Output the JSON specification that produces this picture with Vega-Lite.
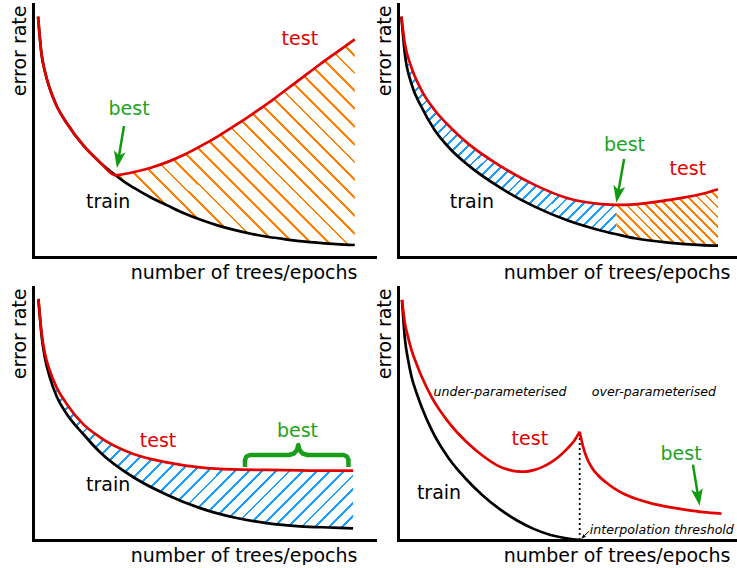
{
"$schema":"https://vega.github.io/schema/vega-lite/v6.json",
"padding":{"left":10,"top":4,"right":0,"bottom":0},
"columns":2,
"spacing":{"row":30,"column":23},
"bounds":"flush",
"datasets":{
"p1":[{"x":1.5,"train":95,"test":95},{"x":2.5,"train":80.5,"test":80.5},{"x":3.5,"train":73.5,"test":73.5},{"x":5,"train":66.5,"test":66.5},{"x":7,"train":59.8,"test":59.8},{"x":10,"train":53,"test":53},{"x":15,"train":44,"test":44},{"x":20,"train":37.3,"test":37.3},{"x":24.5,"train":32.3,"test":32.3},{"x":27,"train":29.8,"test":32.8},{"x":30,"train":27.3,"test":33.6},{"x":35,"train":23.5,"test":35.3},{"x":40,"train":20.3,"test":37.6},{"x":45,"train":17.2,"test":40.5},{"x":50,"train":14.6,"test":44.0},{"x":55,"train":12.4,"test":47.8},{"x":60,"train":10.6,"test":52.0},{"x":65,"train":9.1,"test":56.4},{"x":70,"train":7.9,"test":61.0},{"x":75,"train":7.0,"test":66.0},{"x":80,"train":6.2,"test":71.0},{"x":85,"train":5.6,"test":76.0},{"x":90,"train":5.1,"test":80.8},{"x":95.5,"train":4.75,"test":86.0}],
"p2":[{"x":1.0,"test":95.0,"train":95.0},{"x":2.0,"test":84.5,"train":80.5},{"x":3.9,"test":75.2,"train":68.7},{"x":6.9,"test":66.0,"train":59.4},{"x":10.8,"test":58.1,"train":50.2},{"x":15.7,"test":50.9,"train":42.3},{"x":20.6,"test":44.9,"train":36.4},{"x":30.5,"test":35.7,"train":27.1},{"x":40.3,"test":28.5,"train":19.9},{"x":50.1,"test":23.2,"train":14.4},{"x":60.0,"test":20.9,"train":10.4},{"x":64.4,"test":20.6,"train":9.0},{"x":69.8,"test":20.8,"train":7.4},{"x":79.6,"test":22.5,"train":5.7},{"x":89.5,"test":24.9,"train":4.7},{"x":94.4,"test":26.8,"train":4.5}],
"p3":[{"x":1.6,"test":95.3,"train":95.3},{"x":2.6,"test":81.4,"train":80.1},{"x":3.5,"test":74.0,"train":72.2},{"x":5.0,"test":66.9,"train":64.3},{"x":7,"test":60.3,"train":56.8},{"x":10.0,"test":53.8,"train":49.8},{"x":14.9,"test":45.8,"train":41.9},{"x":19.9,"test":40.6,"train":34.7},{"x":29.8,"test":34.0,"train":24.8},{"x":39.7,"test":30.7,"train":17.9},{"x":49.6,"test":28.7,"train":12.6},{"x":59.4,"test":27.9,"train":9.0},{"x":69.3,"test":27.7,"train":6.7},{"x":79.2,"test":27.5,"train":5.4},{"x":89.1,"test":27.4,"train":4.9},{"x":95.0,"test":27.4,"train":4.6}],
"p4train":[{"x":1.18,"y":94.9},{"x":2,"y":80},{"x":3,"y":71},{"x":4,"y":64.5},{"x":5.5,"y":58},{"x":7,"y":52.5},{"x":10,"y":43.3},{"x":15,"y":32.2},{"x":20,"y":24.2},{"x":25,"y":17.6},{"x":30,"y":12.2},{"x":35,"y":7.8},{"x":40,"y":4.4},{"x":45,"y":2.0},{"x":50,"y":0.6},{"x":53.6,"y":0}],
"p4test":[{"x":1.18,"y":94.9,"seg":"under"},{"x":2,"y":86,"seg":"under"},{"x":3,"y":80,"seg":"under"},{"x":4,"y":75,"seg":"under"},{"x":5.5,"y":69.5,"seg":"under"},{"x":7,"y":64.5,"seg":"under"},{"x":10,"y":56.3,"seg":"under"},{"x":15,"y":46.4,"seg":"under"},{"x":20,"y":39.0,"seg":"under"},{"x":25,"y":33.3,"seg":"under"},{"x":30,"y":29.0,"seg":"under"},{"x":32.5,"y":27.8,"seg":"under"},{"x":35,"y":27.1,"seg":"under"},{"x":37.5,"y":27.0,"seg":"under"},{"x":40,"y":27.6,"seg":"under"},{"x":42.5,"y":28.8,"seg":"under"},{"x":45,"y":30.6,"seg":"under"},{"x":47.5,"y":33.0,"seg":"under"},{"x":50,"y":36.2,"seg":"under"},{"x":52,"y":39.2,"seg":"under"},{"x":53.6,"y":42.8,"seg":"under"},{"x":53.6,"y":42.8,"seg":"over"},{"x":54.1,"y":39.6,"seg":"over"},{"x":55,"y":35.0,"seg":"over"},{"x":56,"y":31.5,"seg":"over"},{"x":57.5,"y":28.0,"seg":"over"},{"x":59,"y":25.6,"seg":"over"},{"x":61.5,"y":22.6,"seg":"over"},{"x":64,"y":20.2,"seg":"over"},{"x":67,"y":18.0,"seg":"over"},{"x":70,"y":16.4,"seg":"over"},{"x":75,"y":14.4,"seg":"over"},{"x":80,"y":13.0,"seg":"over"},{"x":85,"y":11.9,"seg":"over"},{"x":90,"y":11.0,"seg":"over"},{"x":95.4,"y":10.4,"seg":"over"}]
},
"concat":[
{
"width":342,"height":253,
"encoding":{"x":{"field":"x","type":"quantitative","scale":{"domain":[0,101.5],"nice":false,"zero":false},"title":"number of trees/epochs","axis":{"titleX":324}}},
"layer":[
{"data":{"name":"p1"},"transform":[{"filter":"datum.x >= 24.5"}],
"mark":{"type":"area","interpolate":"monotone","opacity":1,"fillOpacity":1,"fill":{"gradient":"linear","x1":0,"y1":1,"x2":1.07,"y2":0.08,"stops":[
{"offset":0,"color":"#ff7f00"},{"offset":0.0063,"color":"#ff7f00"},{"offset":0.0063,"color":"#ffffff"},{"offset":0.04,"color":"#ffffff"},
{"offset":0.04,"color":"#ff7f00"},{"offset":0.0463,"color":"#ff7f00"},{"offset":0.0463,"color":"#ffffff"},{"offset":0.08,"color":"#ffffff"},
{"offset":0.08,"color":"#ff7f00"},{"offset":0.0863,"color":"#ff7f00"},{"offset":0.0863,"color":"#ffffff"},{"offset":0.12,"color":"#ffffff"},
{"offset":0.12,"color":"#ff7f00"},{"offset":0.1263,"color":"#ff7f00"},{"offset":0.1263,"color":"#ffffff"},{"offset":0.16,"color":"#ffffff"},
{"offset":0.16,"color":"#ff7f00"},{"offset":0.1663,"color":"#ff7f00"},{"offset":0.1663,"color":"#ffffff"},{"offset":0.2,"color":"#ffffff"},
{"offset":0.2,"color":"#ff7f00"},{"offset":0.2063,"color":"#ff7f00"},{"offset":0.2063,"color":"#ffffff"},{"offset":0.24,"color":"#ffffff"},
{"offset":0.24,"color":"#ff7f00"},{"offset":0.2463,"color":"#ff7f00"},{"offset":0.2463,"color":"#ffffff"},{"offset":0.28,"color":"#ffffff"},
{"offset":0.28,"color":"#ff7f00"},{"offset":0.2863,"color":"#ff7f00"},{"offset":0.2863,"color":"#ffffff"},{"offset":0.32,"color":"#ffffff"},
{"offset":0.32,"color":"#ff7f00"},{"offset":0.3263,"color":"#ff7f00"},{"offset":0.3263,"color":"#ffffff"},{"offset":0.36,"color":"#ffffff"},
{"offset":0.36,"color":"#ff7f00"},{"offset":0.3663,"color":"#ff7f00"},{"offset":0.3663,"color":"#ffffff"},{"offset":0.4,"color":"#ffffff"},
{"offset":0.4,"color":"#ff7f00"},{"offset":0.4063,"color":"#ff7f00"},{"offset":0.4063,"color":"#ffffff"},{"offset":0.44,"color":"#ffffff"},
{"offset":0.44,"color":"#ff7f00"},{"offset":0.4463,"color":"#ff7f00"},{"offset":0.4463,"color":"#ffffff"},{"offset":0.48,"color":"#ffffff"},
{"offset":0.48,"color":"#ff7f00"},{"offset":0.4863,"color":"#ff7f00"},{"offset":0.4863,"color":"#ffffff"},{"offset":0.52,"color":"#ffffff"},
{"offset":0.52,"color":"#ff7f00"},{"offset":0.5263,"color":"#ff7f00"},{"offset":0.5263,"color":"#ffffff"},{"offset":0.56,"color":"#ffffff"},
{"offset":0.56,"color":"#ff7f00"},{"offset":0.5663,"color":"#ff7f00"},{"offset":0.5663,"color":"#ffffff"},{"offset":0.6,"color":"#ffffff"},
{"offset":0.6,"color":"#ff7f00"},{"offset":0.6063,"color":"#ff7f00"},{"offset":0.6063,"color":"#ffffff"},{"offset":0.64,"color":"#ffffff"},
{"offset":0.64,"color":"#ff7f00"},{"offset":0.6463,"color":"#ff7f00"},{"offset":0.6463,"color":"#ffffff"},{"offset":0.68,"color":"#ffffff"},
{"offset":0.68,"color":"#ff7f00"},{"offset":0.6863,"color":"#ff7f00"},{"offset":0.6863,"color":"#ffffff"},{"offset":0.72,"color":"#ffffff"},
{"offset":0.72,"color":"#ff7f00"},{"offset":0.7263,"color":"#ff7f00"},{"offset":0.7263,"color":"#ffffff"},{"offset":0.76,"color":"#ffffff"},
{"offset":0.76,"color":"#ff7f00"},{"offset":0.7663,"color":"#ff7f00"},{"offset":0.7663,"color":"#ffffff"},{"offset":0.8,"color":"#ffffff"},
{"offset":0.8,"color":"#ff7f00"},{"offset":0.8063,"color":"#ff7f00"},{"offset":0.8063,"color":"#ffffff"},{"offset":0.84,"color":"#ffffff"},
{"offset":0.84,"color":"#ff7f00"},{"offset":0.8463,"color":"#ff7f00"},{"offset":0.8463,"color":"#ffffff"},{"offset":0.88,"color":"#ffffff"},
{"offset":0.88,"color":"#ff7f00"},{"offset":0.8863,"color":"#ff7f00"},{"offset":0.8863,"color":"#ffffff"},{"offset":0.92,"color":"#ffffff"},
{"offset":0.92,"color":"#ff7f00"},{"offset":0.9263,"color":"#ff7f00"},{"offset":0.9263,"color":"#ffffff"},{"offset":0.96,"color":"#ffffff"},
{"offset":0.96,"color":"#ff7f00"},{"offset":0.9663,"color":"#ff7f00"},{"offset":0.9663,"color":"#ffffff"},{"offset":1,"color":"#ffffff"}
]}},
"encoding":{"y":{"field":"test","type":"quantitative","scale":{"domain":[0,100],"nice":false},"title":"error rate"},"y2":{"field":"train"}}},
{"data":{"name":"p1"},"mark":{"type":"line","interpolate":"monotone","color":"#000000","strokeWidth":2.7},
"encoding":{"y":{"field":"train","type":"quantitative","scale":{"domain":[0,100],"nice":false},"title":"error rate"}}},
{"data":{"name":"p1"},"mark":{"type":"line","interpolate":"monotone","color":"#e30000","strokeWidth":2.7},
"encoding":{"y":{"field":"test","type":"quantitative","scale":{"domain":[0,100],"nice":false},"title":"error rate"}}},
{"data":{"values":[{"x":27.0,"y":51.8,"x2":25.34,"y2":38.5}]},"mark":{"type":"rule","color":"#119911","strokeWidth":2.5},
"encoding":{"y":{"field":"y","type":"quantitative","scale":{"domain":[0,100],"nice":false},"title":"error rate"},"x2":{"field":"x2"},"y2":{"field":"y2"}}},
{"data":{"values":[{"x":25.34,"y":38.5}]},"mark":{"type":"point","shape":"M0,1L-0.7,-1L0,-0.5L0.7,-1Z","size":289,"filled":true,"color":"#119911","opacity":1,"strokeWidth":0,"angle":9.5},
"encoding":{"y":{"field":"y","type":"quantitative","scale":{"domain":[0,100],"nice":false},"title":"error rate"}}},
{"data":{"values":[{"x":79.2,"y":83.6,"label":"test"},{"x":28.5,"y":56.1,"label":"best"},{"x":22.3,"y":19.4,"label":"train"}]},
"mark":{"type":"text","baseline":"alphabetic","align":"center","fontSize":19},
"encoding":{"y":{"field":"y","type":"quantitative","scale":{"domain":[0,100],"nice":false},"title":"error rate"},"text":{"field":"label"},
"color":{"field":"label","type":"nominal","scale":{"domain":["test","best","train"],"range":["#e30000","#22a322","#000000"]},"legend":null}}}
]
},
{
"width":339,"height":253,
"encoding":{"x":{"field":"x","type":"quantitative","scale":{"domain":[0,100],"nice":false,"zero":false},"title":"number of trees/epochs","axis":{"titleX":332}}},
"layer":[
{"data":{"name":"p2"},"transform":[{"filter":"datum.x <= 64.4"}],
"mark":{"type":"area","interpolate":"monotone","opacity":1,"fillOpacity":1,"fill":{"gradient":"linear","x1":0,"y1":0,"x2":0.992,"y2":1.008,"stops":[
{"offset":0,"color":"#1a9fff"},{"offset":0.0065,"color":"#1a9fff"},{"offset":0.0065,"color":"#ffffff"},{"offset":0.025,"color":"#ffffff"},
{"offset":0.025,"color":"#1a9fff"},{"offset":0.0315,"color":"#1a9fff"},{"offset":0.0315,"color":"#ffffff"},{"offset":0.05,"color":"#ffffff"},
{"offset":0.05,"color":"#1a9fff"},{"offset":0.0565,"color":"#1a9fff"},{"offset":0.0565,"color":"#ffffff"},{"offset":0.075,"color":"#ffffff"},
{"offset":0.075,"color":"#1a9fff"},{"offset":0.0815,"color":"#1a9fff"},{"offset":0.0815,"color":"#ffffff"},{"offset":0.1,"color":"#ffffff"},
{"offset":0.1,"color":"#1a9fff"},{"offset":0.1065,"color":"#1a9fff"},{"offset":0.1065,"color":"#ffffff"},{"offset":0.125,"color":"#ffffff"},
{"offset":0.125,"color":"#1a9fff"},{"offset":0.1315,"color":"#1a9fff"},{"offset":0.1315,"color":"#ffffff"},{"offset":0.15,"color":"#ffffff"},
{"offset":0.15,"color":"#1a9fff"},{"offset":0.1565,"color":"#1a9fff"},{"offset":0.1565,"color":"#ffffff"},{"offset":0.175,"color":"#ffffff"},
{"offset":0.175,"color":"#1a9fff"},{"offset":0.1815,"color":"#1a9fff"},{"offset":0.1815,"color":"#ffffff"},{"offset":0.2,"color":"#ffffff"},
{"offset":0.2,"color":"#1a9fff"},{"offset":0.2065,"color":"#1a9fff"},{"offset":0.2065,"color":"#ffffff"},{"offset":0.225,"color":"#ffffff"},
{"offset":0.225,"color":"#1a9fff"},{"offset":0.2315,"color":"#1a9fff"},{"offset":0.2315,"color":"#ffffff"},{"offset":0.25,"color":"#ffffff"},
{"offset":0.25,"color":"#1a9fff"},{"offset":0.2565,"color":"#1a9fff"},{"offset":0.2565,"color":"#ffffff"},{"offset":0.275,"color":"#ffffff"},
{"offset":0.275,"color":"#1a9fff"},{"offset":0.2815,"color":"#1a9fff"},{"offset":0.2815,"color":"#ffffff"},{"offset":0.3,"color":"#ffffff"},
{"offset":0.3,"color":"#1a9fff"},{"offset":0.3065,"color":"#1a9fff"},{"offset":0.3065,"color":"#ffffff"},{"offset":0.325,"color":"#ffffff"},
{"offset":0.325,"color":"#1a9fff"},{"offset":0.3315,"color":"#1a9fff"},{"offset":0.3315,"color":"#ffffff"},{"offset":0.35,"color":"#ffffff"},
{"offset":0.35,"color":"#1a9fff"},{"offset":0.3565,"color":"#1a9fff"},{"offset":0.3565,"color":"#ffffff"},{"offset":0.375,"color":"#ffffff"},
{"offset":0.375,"color":"#1a9fff"},{"offset":0.3815,"color":"#1a9fff"},{"offset":0.3815,"color":"#ffffff"},{"offset":0.4,"color":"#ffffff"},
{"offset":0.4,"color":"#1a9fff"},{"offset":0.4065,"color":"#1a9fff"},{"offset":0.4065,"color":"#ffffff"},{"offset":0.425,"color":"#ffffff"},
{"offset":0.425,"color":"#1a9fff"},{"offset":0.4315,"color":"#1a9fff"},{"offset":0.4315,"color":"#ffffff"},{"offset":0.45,"color":"#ffffff"},
{"offset":0.45,"color":"#1a9fff"},{"offset":0.4565,"color":"#1a9fff"},{"offset":0.4565,"color":"#ffffff"},{"offset":0.475,"color":"#ffffff"},
{"offset":0.475,"color":"#1a9fff"},{"offset":0.4815,"color":"#1a9fff"},{"offset":0.4815,"color":"#ffffff"},{"offset":0.5,"color":"#ffffff"},
{"offset":0.5,"color":"#1a9fff"},{"offset":0.5065,"color":"#1a9fff"},{"offset":0.5065,"color":"#ffffff"},{"offset":0.525,"color":"#ffffff"},
{"offset":0.525,"color":"#1a9fff"},{"offset":0.5315,"color":"#1a9fff"},{"offset":0.5315,"color":"#ffffff"},{"offset":0.55,"color":"#ffffff"},
{"offset":0.55,"color":"#1a9fff"},{"offset":0.5565,"color":"#1a9fff"},{"offset":0.5565,"color":"#ffffff"},{"offset":0.575,"color":"#ffffff"},
{"offset":0.575,"color":"#1a9fff"},{"offset":0.5815,"color":"#1a9fff"},{"offset":0.5815,"color":"#ffffff"},{"offset":0.6,"color":"#ffffff"},
{"offset":0.6,"color":"#1a9fff"},{"offset":0.6065,"color":"#1a9fff"},{"offset":0.6065,"color":"#ffffff"},{"offset":0.625,"color":"#ffffff"},
{"offset":0.625,"color":"#1a9fff"},{"offset":0.6315,"color":"#1a9fff"},{"offset":0.6315,"color":"#ffffff"},{"offset":0.65,"color":"#ffffff"},
{"offset":0.65,"color":"#1a9fff"},{"offset":0.6565,"color":"#1a9fff"},{"offset":0.6565,"color":"#ffffff"},{"offset":0.675,"color":"#ffffff"},
{"offset":0.675,"color":"#1a9fff"},{"offset":0.6815,"color":"#1a9fff"},{"offset":0.6815,"color":"#ffffff"},{"offset":0.7,"color":"#ffffff"},
{"offset":0.7,"color":"#1a9fff"},{"offset":0.7065,"color":"#1a9fff"},{"offset":0.7065,"color":"#ffffff"},{"offset":0.725,"color":"#ffffff"},
{"offset":0.725,"color":"#1a9fff"},{"offset":0.7315,"color":"#1a9fff"},{"offset":0.7315,"color":"#ffffff"},{"offset":0.75,"color":"#ffffff"},
{"offset":0.75,"color":"#1a9fff"},{"offset":0.7565,"color":"#1a9fff"},{"offset":0.7565,"color":"#ffffff"},{"offset":0.775,"color":"#ffffff"},
{"offset":0.775,"color":"#1a9fff"},{"offset":0.7815,"color":"#1a9fff"},{"offset":0.7815,"color":"#ffffff"},{"offset":0.8,"color":"#ffffff"},
{"offset":0.8,"color":"#1a9fff"},{"offset":0.8065,"color":"#1a9fff"},{"offset":0.8065,"color":"#ffffff"},{"offset":0.825,"color":"#ffffff"},
{"offset":0.825,"color":"#1a9fff"},{"offset":0.8315,"color":"#1a9fff"},{"offset":0.8315,"color":"#ffffff"},{"offset":0.85,"color":"#ffffff"},
{"offset":0.85,"color":"#1a9fff"},{"offset":0.8565,"color":"#1a9fff"},{"offset":0.8565,"color":"#ffffff"},{"offset":0.875,"color":"#ffffff"},
{"offset":0.875,"color":"#1a9fff"},{"offset":0.8815,"color":"#1a9fff"},{"offset":0.8815,"color":"#ffffff"},{"offset":0.9,"color":"#ffffff"},
{"offset":0.9,"color":"#1a9fff"},{"offset":0.9065,"color":"#1a9fff"},{"offset":0.9065,"color":"#ffffff"},{"offset":0.925,"color":"#ffffff"},
{"offset":0.925,"color":"#1a9fff"},{"offset":0.9315,"color":"#1a9fff"},{"offset":0.9315,"color":"#ffffff"},{"offset":0.95,"color":"#ffffff"},
{"offset":0.95,"color":"#1a9fff"},{"offset":0.9565,"color":"#1a9fff"},{"offset":0.9565,"color":"#ffffff"},{"offset":0.975,"color":"#ffffff"},
{"offset":0.975,"color":"#1a9fff"},{"offset":0.9815,"color":"#1a9fff"},{"offset":0.9815,"color":"#ffffff"},{"offset":1,"color":"#ffffff"}
]}},
"encoding":{"y":{"field":"test","type":"quantitative","scale":{"domain":[0,100],"nice":false},"title":"error rate"},"y2":{"field":"train"}}},
{"data":{"name":"p2"},"transform":[{"filter":"datum.x >= 64.4"}],
"mark":{"type":"area","interpolate":"monotone","opacity":1,"fillOpacity":1,"fill":{"gradient":"linear","x1":0,"y1":1,"x2":1.189,"y2":0.341,"stops":[
{"offset":0,"color":"#ff7f00"},{"offset":0.0177,"color":"#ff7f00"},{"offset":0.0177,"color":"#ffffff"},{"offset":0.0625,"color":"#ffffff"},
{"offset":0.0625,"color":"#ff7f00"},{"offset":0.0802,"color":"#ff7f00"},{"offset":0.0802,"color":"#ffffff"},{"offset":0.125,"color":"#ffffff"},
{"offset":0.125,"color":"#ff7f00"},{"offset":0.1427,"color":"#ff7f00"},{"offset":0.1427,"color":"#ffffff"},{"offset":0.1875,"color":"#ffffff"},
{"offset":0.1875,"color":"#ff7f00"},{"offset":0.2052,"color":"#ff7f00"},{"offset":0.2052,"color":"#ffffff"},{"offset":0.25,"color":"#ffffff"},
{"offset":0.25,"color":"#ff7f00"},{"offset":0.2677,"color":"#ff7f00"},{"offset":0.2677,"color":"#ffffff"},{"offset":0.3125,"color":"#ffffff"},
{"offset":0.3125,"color":"#ff7f00"},{"offset":0.3302,"color":"#ff7f00"},{"offset":0.3302,"color":"#ffffff"},{"offset":0.375,"color":"#ffffff"},
{"offset":0.375,"color":"#ff7f00"},{"offset":0.3927,"color":"#ff7f00"},{"offset":0.3927,"color":"#ffffff"},{"offset":0.4375,"color":"#ffffff"},
{"offset":0.4375,"color":"#ff7f00"},{"offset":0.4552,"color":"#ff7f00"},{"offset":0.4552,"color":"#ffffff"},{"offset":0.5,"color":"#ffffff"},
{"offset":0.5,"color":"#ff7f00"},{"offset":0.5177,"color":"#ff7f00"},{"offset":0.5177,"color":"#ffffff"},{"offset":0.5625,"color":"#ffffff"},
{"offset":0.5625,"color":"#ff7f00"},{"offset":0.5802,"color":"#ff7f00"},{"offset":0.5802,"color":"#ffffff"},{"offset":0.625,"color":"#ffffff"},
{"offset":0.625,"color":"#ff7f00"},{"offset":0.6427,"color":"#ff7f00"},{"offset":0.6427,"color":"#ffffff"},{"offset":0.6875,"color":"#ffffff"},
{"offset":0.6875,"color":"#ff7f00"},{"offset":0.7052,"color":"#ff7f00"},{"offset":0.7052,"color":"#ffffff"},{"offset":0.75,"color":"#ffffff"},
{"offset":0.75,"color":"#ff7f00"},{"offset":0.7677,"color":"#ff7f00"},{"offset":0.7677,"color":"#ffffff"},{"offset":0.8125,"color":"#ffffff"},
{"offset":0.8125,"color":"#ff7f00"},{"offset":0.8302,"color":"#ff7f00"},{"offset":0.8302,"color":"#ffffff"},{"offset":0.875,"color":"#ffffff"},
{"offset":0.875,"color":"#ff7f00"},{"offset":0.8927,"color":"#ff7f00"},{"offset":0.8927,"color":"#ffffff"},{"offset":0.9375,"color":"#ffffff"},
{"offset":0.9375,"color":"#ff7f00"},{"offset":0.9552,"color":"#ff7f00"},{"offset":0.9552,"color":"#ffffff"},{"offset":1,"color":"#ffffff"}
]}},
"encoding":{"y":{"field":"test","type":"quantitative","scale":{"domain":[0,100],"nice":false},"title":"error rate"},"y2":{"field":"train"}}},
{"data":{"name":"p2"},"mark":{"type":"line","interpolate":"monotone","color":"#000000","strokeWidth":2.7},
"encoding":{"y":{"field":"train","type":"quantitative","scale":{"domain":[0,100],"nice":false},"title":"error rate"}}},
{"data":{"name":"p2"},"mark":{"type":"line","interpolate":"monotone","color":"#e30000","strokeWidth":2.7},
"encoding":{"y":{"field":"test","type":"quantitative","scale":{"domain":[0,100],"nice":false},"title":"error rate"}}},
{"data":{"values":[{"x":66.7,"y":38.7,"x2":64.84,"y2":24.8}]},"mark":{"type":"rule","color":"#119911","strokeWidth":2.5},
"encoding":{"y":{"field":"y","type":"quantitative","scale":{"domain":[0,100],"nice":false},"title":"error rate"},"x2":{"field":"x2"},"y2":{"field":"y2"}}},
{"data":{"values":[{"x":64.84,"y":24.8}]},"mark":{"type":"point","shape":"M0,1L-0.7,-1L0,-0.5L0.7,-1Z","size":289,"filled":true,"color":"#119911","opacity":1,"strokeWidth":0,"angle":10},
"encoding":{"y":{"field":"y","type":"quantitative","scale":{"domain":[0,100],"nice":false},"title":"error rate"}}},
{"data":{"values":[{"x":85.5,"y":32.4,"label":"test"},{"x":66.8,"y":41.9,"label":"best"},{"x":21.8,"y":19.4,"label":"train"}]},
"mark":{"type":"text","baseline":"alphabetic","align":"center","fontSize":19},
"encoding":{"y":{"field":"y","type":"quantitative","scale":{"domain":[0,100],"nice":false},"title":"error rate"},"text":{"field":"label"},
"color":{"field":"label","type":"nominal","scale":{"domain":["test","best","train"],"range":["#e30000","#22a322","#000000"]},"legend":null}}}
]
},
{
"width":342,"height":253,
"encoding":{"x":{"field":"x","type":"quantitative","scale":{"domain":[0,101.5],"nice":false,"zero":false},"title":"number of trees/epochs","axis":{"titleX":324}}},
"layer":[
{"data":{"name":"p3"},
"mark":{"type":"area","interpolate":"monotone","opacity":1,"fillOpacity":1,"fill":{"gradient":"linear","x1":0,"y1":0,"x2":1.129,"y2":0.823,"stops":[
{"offset":0,"color":"#1a9fff"},{"offset":0.0052,"color":"#1a9fff"},{"offset":0.0052,"color":"#ffffff"},{"offset":0.025,"color":"#ffffff"},
{"offset":0.025,"color":"#1a9fff"},{"offset":0.0302,"color":"#1a9fff"},{"offset":0.0302,"color":"#ffffff"},{"offset":0.05,"color":"#ffffff"},
{"offset":0.05,"color":"#1a9fff"},{"offset":0.0552,"color":"#1a9fff"},{"offset":0.0552,"color":"#ffffff"},{"offset":0.075,"color":"#ffffff"},
{"offset":0.075,"color":"#1a9fff"},{"offset":0.0802,"color":"#1a9fff"},{"offset":0.0802,"color":"#ffffff"},{"offset":0.1,"color":"#ffffff"},
{"offset":0.1,"color":"#1a9fff"},{"offset":0.1052,"color":"#1a9fff"},{"offset":0.1052,"color":"#ffffff"},{"offset":0.125,"color":"#ffffff"},
{"offset":0.125,"color":"#1a9fff"},{"offset":0.1302,"color":"#1a9fff"},{"offset":0.1302,"color":"#ffffff"},{"offset":0.15,"color":"#ffffff"},
{"offset":0.15,"color":"#1a9fff"},{"offset":0.1552,"color":"#1a9fff"},{"offset":0.1552,"color":"#ffffff"},{"offset":0.175,"color":"#ffffff"},
{"offset":0.175,"color":"#1a9fff"},{"offset":0.1802,"color":"#1a9fff"},{"offset":0.1802,"color":"#ffffff"},{"offset":0.2,"color":"#ffffff"},
{"offset":0.2,"color":"#1a9fff"},{"offset":0.2052,"color":"#1a9fff"},{"offset":0.2052,"color":"#ffffff"},{"offset":0.225,"color":"#ffffff"},
{"offset":0.225,"color":"#1a9fff"},{"offset":0.2302,"color":"#1a9fff"},{"offset":0.2302,"color":"#ffffff"},{"offset":0.25,"color":"#ffffff"},
{"offset":0.25,"color":"#1a9fff"},{"offset":0.2552,"color":"#1a9fff"},{"offset":0.2552,"color":"#ffffff"},{"offset":0.275,"color":"#ffffff"},
{"offset":0.275,"color":"#1a9fff"},{"offset":0.2802,"color":"#1a9fff"},{"offset":0.2802,"color":"#ffffff"},{"offset":0.3,"color":"#ffffff"},
{"offset":0.3,"color":"#1a9fff"},{"offset":0.3052,"color":"#1a9fff"},{"offset":0.3052,"color":"#ffffff"},{"offset":0.325,"color":"#ffffff"},
{"offset":0.325,"color":"#1a9fff"},{"offset":0.3302,"color":"#1a9fff"},{"offset":0.3302,"color":"#ffffff"},{"offset":0.35,"color":"#ffffff"},
{"offset":0.35,"color":"#1a9fff"},{"offset":0.3552,"color":"#1a9fff"},{"offset":0.3552,"color":"#ffffff"},{"offset":0.375,"color":"#ffffff"},
{"offset":0.375,"color":"#1a9fff"},{"offset":0.3802,"color":"#1a9fff"},{"offset":0.3802,"color":"#ffffff"},{"offset":0.4,"color":"#ffffff"},
{"offset":0.4,"color":"#1a9fff"},{"offset":0.4052,"color":"#1a9fff"},{"offset":0.4052,"color":"#ffffff"},{"offset":0.425,"color":"#ffffff"},
{"offset":0.425,"color":"#1a9fff"},{"offset":0.4302,"color":"#1a9fff"},{"offset":0.4302,"color":"#ffffff"},{"offset":0.45,"color":"#ffffff"},
{"offset":0.45,"color":"#1a9fff"},{"offset":0.4552,"color":"#1a9fff"},{"offset":0.4552,"color":"#ffffff"},{"offset":0.475,"color":"#ffffff"},
{"offset":0.475,"color":"#1a9fff"},{"offset":0.4802,"color":"#1a9fff"},{"offset":0.4802,"color":"#ffffff"},{"offset":0.5,"color":"#ffffff"},
{"offset":0.5,"color":"#1a9fff"},{"offset":0.5052,"color":"#1a9fff"},{"offset":0.5052,"color":"#ffffff"},{"offset":0.525,"color":"#ffffff"},
{"offset":0.525,"color":"#1a9fff"},{"offset":0.5302,"color":"#1a9fff"},{"offset":0.5302,"color":"#ffffff"},{"offset":0.55,"color":"#ffffff"},
{"offset":0.55,"color":"#1a9fff"},{"offset":0.5552,"color":"#1a9fff"},{"offset":0.5552,"color":"#ffffff"},{"offset":0.575,"color":"#ffffff"},
{"offset":0.575,"color":"#1a9fff"},{"offset":0.5802,"color":"#1a9fff"},{"offset":0.5802,"color":"#ffffff"},{"offset":0.6,"color":"#ffffff"},
{"offset":0.6,"color":"#1a9fff"},{"offset":0.6052,"color":"#1a9fff"},{"offset":0.6052,"color":"#ffffff"},{"offset":0.625,"color":"#ffffff"},
{"offset":0.625,"color":"#1a9fff"},{"offset":0.6302,"color":"#1a9fff"},{"offset":0.6302,"color":"#ffffff"},{"offset":0.65,"color":"#ffffff"},
{"offset":0.65,"color":"#1a9fff"},{"offset":0.6552,"color":"#1a9fff"},{"offset":0.6552,"color":"#ffffff"},{"offset":0.675,"color":"#ffffff"},
{"offset":0.675,"color":"#1a9fff"},{"offset":0.6802,"color":"#1a9fff"},{"offset":0.6802,"color":"#ffffff"},{"offset":0.7,"color":"#ffffff"},
{"offset":0.7,"color":"#1a9fff"},{"offset":0.7052,"color":"#1a9fff"},{"offset":0.7052,"color":"#ffffff"},{"offset":0.725,"color":"#ffffff"},
{"offset":0.725,"color":"#1a9fff"},{"offset":0.7302,"color":"#1a9fff"},{"offset":0.7302,"color":"#ffffff"},{"offset":0.75,"color":"#ffffff"},
{"offset":0.75,"color":"#1a9fff"},{"offset":0.7552,"color":"#1a9fff"},{"offset":0.7552,"color":"#ffffff"},{"offset":0.775,"color":"#ffffff"},
{"offset":0.775,"color":"#1a9fff"},{"offset":0.7802,"color":"#1a9fff"},{"offset":0.7802,"color":"#ffffff"},{"offset":0.8,"color":"#ffffff"},
{"offset":0.8,"color":"#1a9fff"},{"offset":0.8052,"color":"#1a9fff"},{"offset":0.8052,"color":"#ffffff"},{"offset":0.825,"color":"#ffffff"},
{"offset":0.825,"color":"#1a9fff"},{"offset":0.8302,"color":"#1a9fff"},{"offset":0.8302,"color":"#ffffff"},{"offset":0.85,"color":"#ffffff"},
{"offset":0.85,"color":"#1a9fff"},{"offset":0.8552,"color":"#1a9fff"},{"offset":0.8552,"color":"#ffffff"},{"offset":0.875,"color":"#ffffff"},
{"offset":0.875,"color":"#1a9fff"},{"offset":0.8802,"color":"#1a9fff"},{"offset":0.8802,"color":"#ffffff"},{"offset":0.9,"color":"#ffffff"},
{"offset":0.9,"color":"#1a9fff"},{"offset":0.9052,"color":"#1a9fff"},{"offset":0.9052,"color":"#ffffff"},{"offset":0.925,"color":"#ffffff"},
{"offset":0.925,"color":"#1a9fff"},{"offset":0.9302,"color":"#1a9fff"},{"offset":0.9302,"color":"#ffffff"},{"offset":0.95,"color":"#ffffff"},
{"offset":0.95,"color":"#1a9fff"},{"offset":0.9552,"color":"#1a9fff"},{"offset":0.9552,"color":"#ffffff"},{"offset":0.975,"color":"#ffffff"},
{"offset":0.975,"color":"#1a9fff"},{"offset":0.9802,"color":"#1a9fff"},{"offset":0.9802,"color":"#ffffff"},{"offset":1,"color":"#ffffff"}
]}},
"encoding":{"y":{"field":"test","type":"quantitative","scale":{"domain":[0,100],"nice":false},"title":"error rate"},"y2":{"field":"train"}}},
{"data":{"name":"p3"},"mark":{"type":"line","interpolate":"monotone","color":"#000000","strokeWidth":2.7},
"encoding":{"y":{"field":"train","type":"quantitative","scale":{"domain":[0,100],"nice":false},"title":"error rate"}}},
{"data":{"name":"p3"},"mark":{"type":"line","interpolate":"monotone","color":"#e30000","strokeWidth":2.7},
"encoding":{"y":{"field":"test","type":"quantitative","scale":{"domain":[0,100],"nice":false},"title":"error rate"}}},
{"data":{"values":[{"x":62.91,"y":28.85,"o":1},{"x":62.91,"y":31.62,"o":2},{"x":63.35,"y":33.0,"o":3},{"x":64.39,"y":33.6,"o":4},{"x":75.96,"y":33.6,"o":5},{"x":77.45,"y":34.19,"o":6},{"x":78.34,"y":35.57,"o":7},{"x":78.72,"y":37.55,"o":8},{"x":79.11,"y":35.57,"o":9},{"x":80.0,"y":34.19,"o":10},{"x":81.48,"y":33.6,"o":11},{"x":92.14,"y":33.6,"o":12},{"x":93.18,"y":33.0,"o":13},{"x":93.62,"y":31.62,"o":14},{"x":93.62,"y":28.85,"o":15}]},
"mark":{"type":"line","interpolate":"linear","color":"#1a9e1a","strokeWidth":4.5,"strokeJoin":"round"},
"encoding":{"y":{"field":"y","type":"quantitative","scale":{"domain":[0,100],"nice":false},"title":"error rate"},"order":{"field":"o"}}},
{"data":{"values":[{"x":37.1,"y":36.8,"label":"test"},{"x":78.5,"y":40.7,"label":"best"},{"x":22.3,"y":19.4,"label":"train"}]},
"mark":{"type":"text","baseline":"alphabetic","align":"center","fontSize":19},
"encoding":{"y":{"field":"y","type":"quantitative","scale":{"domain":[0,100],"nice":false},"title":"error rate"},"text":{"field":"label"},
"color":{"field":"label","type":"nominal","scale":{"domain":["test","best","train"],"range":["#e30000","#22a322","#000000"]},"legend":null}}}
]
},
{
"width":339,"height":253,
"encoding":{"x":{"field":"x","type":"quantitative","scale":{"domain":[0,100],"nice":false,"zero":false},"title":"number of trees/epochs","axis":{"titleX":332}}},
"layer":[
{"data":{"values":[{"x":53.6,"y":0,"y2":42.5}]},"mark":{"type":"rule","color":"#000000","strokeWidth":1.8,"strokeDash":[2,3]},
"encoding":{"y":{"field":"y","type":"quantitative","scale":{"domain":[0,100],"nice":false},"title":"error rate"},"y2":{"field":"y2"}}},
{"data":{"name":"p4train"},"mark":{"type":"line","interpolate":"monotone","color":"#000000","strokeWidth":2.7},
"encoding":{"y":{"field":"y","type":"quantitative","scale":{"domain":[0,100],"nice":false},"title":"error rate"}}},
{"data":{"name":"p4test"},"mark":{"type":"line","interpolate":"monotone","color":"#e30000","strokeWidth":2.7},
"encoding":{"y":{"field":"y","type":"quantitative","scale":{"domain":[0,100],"nice":false},"title":"error rate"},"detail":{"field":"seg"}}},
{"data":{"values":[{"x":87.0,"y":29.8,"x2":88.58,"y2":16.9}]},"mark":{"type":"rule","color":"#119911","strokeWidth":2.5},
"encoding":{"y":{"field":"y","type":"quantitative","scale":{"domain":[0,100],"nice":false},"title":"error rate"},"x2":{"field":"x2"},"y2":{"field":"y2"}}},
{"data":{"values":[{"x":88.58,"y":16.9}]},"mark":{"type":"point","shape":"M0,1L-0.7,-1L0,-0.5L0.7,-1Z","size":289,"filled":true,"color":"#119911","opacity":1,"strokeWidth":0,"angle":-9.3},
"encoding":{"y":{"field":"y","type":"quantitative","scale":{"domain":[0,100],"nice":false},"title":"error rate"}}},
{"data":{"values":[{"x":56.4,"y":3.5,"x2":54.9,"y2":1.6}]},"mark":{"type":"rule","color":"#000000","strokeWidth":1},
"encoding":{"y":{"field":"y","type":"quantitative","scale":{"domain":[0,100],"nice":false},"title":"error rate"},"x2":{"field":"x2"},"y2":{"field":"y2"}}},
{"data":{"values":[{"x":54.6,"y":1.2}]},"mark":{"type":"point","shape":"M0,1L-0.7,-1L0,-0.5L0.7,-1Z","size":30,"filled":true,"color":"#000000","opacity":1,"strokeWidth":0,"angle":45},
"encoding":{"y":{"field":"y","type":"quantitative","scale":{"domain":[0,100],"nice":false},"title":"error rate"}}},
{"data":{"values":[{"x":38.9,"y":37.7,"label":"test"},{"x":83.5,"y":31.6,"label":"best"},{"x":12.1,"y":16.2,"label":"train"}]},
"mark":{"type":"text","baseline":"alphabetic","align":"center","fontSize":19},
"encoding":{"y":{"field":"y","type":"quantitative","scale":{"domain":[0,100],"nice":false},"title":"error rate"},"text":{"field":"label"},
"color":{"field":"label","type":"nominal","scale":{"domain":["test","best","train"],"range":["#e30000","#22a322","#000000"]},"legend":null}}},
{"data":{"values":[{"x":30.1,"y":57.0,"label":"under-parameterised"},{"x":75.5,"y":57.0,"label":"over-parameterised"}]},
"mark":{"type":"text","baseline":"alphabetic","align":"center","fontSize":12.6,"fontStyle":"italic","color":"#000000"},
"encoding":{"y":{"field":"y","type":"quantitative","scale":{"domain":[0,100],"nice":false},"title":"error rate"},"text":{"field":"label"}}},
{"data":{"values":[{"x":56.6,"y":2.5,"label":"interpolation threshold"}]},
"mark":{"type":"text","baseline":"alphabetic","align":"left","fontSize":12.6,"fontStyle":"italic","color":"#000000"},
"encoding":{"y":{"field":"y","type":"quantitative","scale":{"domain":[0,100],"nice":false},"title":"error rate"},"text":{"field":"label"}}}
]
}
],
"config":{
"view":{"stroke":null},
"font":"DejaVu Sans",
"text":{"font":"DejaVu Sans"},
"axis":{"domainColor":"#000000","domainWidth":3,"domainCap":"square","ticks":false,"labels":false,"grid":false,"titleFont":"DejaVu Sans","titleFontSize":19,"titleFontWeight":"normal","titleColor":"#000000"},
"axisX":{"titleY":21,"titleAlign":"right","titleBaseline":"alphabetic"},
"axisY":{"titleX":-8,"titleY":1,"titleAlign":"right","titleBaseline":"alphabetic","titleAngle":270}
}
}
